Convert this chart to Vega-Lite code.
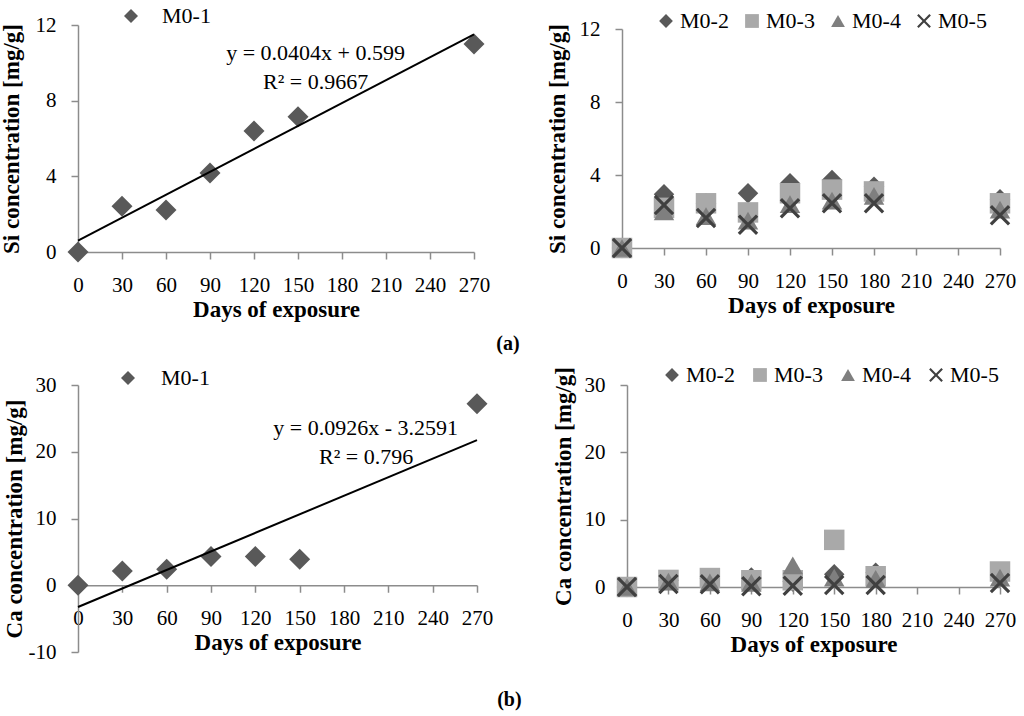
{
  "$schema": "https://vega.github.io/schema/vega-lite/v6.json",
  "padding": {"left": 0, "top": 5, "right": 10, "bottom": 5},
  "background": "white",
  "spacing": 10,
  "datasets": {
    "si1": [
      {"day": 0, "conc": 0, "series": "M0-1"},
      {"day": 30, "conc": 2.42, "series": "M0-1"},
      {"day": 60, "conc": 2.22, "series": "M0-1"},
      {"day": 90, "conc": 4.17, "series": "M0-1"},
      {"day": 120, "conc": 6.4, "series": "M0-1"},
      {"day": 150, "conc": 7.15, "series": "M0-1"},
      {"day": 270, "conc": 11.0, "series": "M0-1"}
    ],
    "si_trend": [{"day": 0, "conc": 0.599}, {"day": 270, "conc": 11.507}],
    "si_eq": [
      {"day": 162, "conc": 10.5, "label": "y = 0.0404x + 0.599"},
      {"day": 162, "conc": 9.0, "label": "R² = 0.9667"}
    ],
    "si_rest": [
      {"day": 0, "conc": 0, "series": "M0-2"},
      {"day": 30, "conc": 2.95, "series": "M0-2"},
      {"day": 60, "conc": 2.45, "series": "M0-2"},
      {"day": 90, "conc": 3.0, "series": "M0-2"},
      {"day": 120, "conc": 3.55, "series": "M0-2"},
      {"day": 150, "conc": 3.72, "series": "M0-2"},
      {"day": 180, "conc": 3.35, "series": "M0-2"},
      {"day": 270, "conc": 2.67, "series": "M0-2"},
      {"day": 0, "conc": 0, "series": "M0-3"},
      {"day": 30, "conc": 2.2, "series": "M0-3"},
      {"day": 60, "conc": 2.45, "series": "M0-3"},
      {"day": 90, "conc": 1.95, "series": "M0-3"},
      {"day": 120, "conc": 3.0, "series": "M0-3"},
      {"day": 150, "conc": 3.2, "series": "M0-3"},
      {"day": 180, "conc": 3.1, "series": "M0-3"},
      {"day": 270, "conc": 2.45, "series": "M0-3"},
      {"day": 0, "conc": 0, "series": "M0-4"},
      {"day": 30, "conc": 2.0, "series": "M0-4"},
      {"day": 60, "conc": 1.75, "series": "M0-4"},
      {"day": 90, "conc": 1.5, "series": "M0-4"},
      {"day": 120, "conc": 2.4, "series": "M0-4"},
      {"day": 150, "conc": 2.6, "series": "M0-4"},
      {"day": 180, "conc": 2.85, "series": "M0-4"},
      {"day": 270, "conc": 2.1, "series": "M0-4"},
      {"day": 0, "conc": 0, "series": "M0-5"},
      {"day": 30, "conc": 2.35, "series": "M0-5"},
      {"day": 60, "conc": 1.65, "series": "M0-5"},
      {"day": 90, "conc": 1.27, "series": "M0-5"},
      {"day": 120, "conc": 2.18, "series": "M0-5"},
      {"day": 150, "conc": 2.45, "series": "M0-5"},
      {"day": 180, "conc": 2.45, "series": "M0-5"},
      {"day": 270, "conc": 1.8, "series": "M0-5"}
    ],
    "ca1": [
      {"day": 0, "conc": 0, "series": "M0-1"},
      {"day": 30, "conc": 2.15, "series": "M0-1"},
      {"day": 60, "conc": 2.4, "series": "M0-1"},
      {"day": 90, "conc": 4.3, "series": "M0-1"},
      {"day": 120, "conc": 4.3, "series": "M0-1"},
      {"day": 150, "conc": 3.9, "series": "M0-1"},
      {"day": 270, "conc": 27.2, "series": "M0-1"}
    ],
    "ca_trend": [{"day": 0, "conc": -3.2591}, {"day": 270, "conc": 21.7429}],
    "ca_eq": [
      {"day": 194.7, "conc": 23.5, "label": "y = 0.0926x - 3.2591"},
      {"day": 195, "conc": 19.2, "label": "R² = 0.796"}
    ],
    "ca_rest": [
      {"day": 0, "conc": 0, "series": "M0-2"},
      {"day": 30, "conc": 1.0, "series": "M0-2"},
      {"day": 60, "conc": 1.3, "series": "M0-2"},
      {"day": 90, "conc": 1.4, "series": "M0-2"},
      {"day": 120, "conc": 0.8, "series": "M0-2"},
      {"day": 150, "conc": 1.9, "series": "M0-2"},
      {"day": 180, "conc": 2.1, "series": "M0-2"},
      {"day": 270, "conc": 1.5, "series": "M0-2"},
      {"day": 0, "conc": 0, "series": "M0-3"},
      {"day": 30, "conc": 1.05, "series": "M0-3"},
      {"day": 60, "conc": 1.33, "series": "M0-3"},
      {"day": 90, "conc": 1.0, "series": "M0-3"},
      {"day": 120, "conc": 1.0, "series": "M0-3"},
      {"day": 150, "conc": 7.0, "series": "M0-3"},
      {"day": 180, "conc": 1.6, "series": "M0-3"},
      {"day": 270, "conc": 2.3, "series": "M0-3"},
      {"day": 0, "conc": 0, "series": "M0-4"},
      {"day": 30, "conc": 0.8, "series": "M0-4"},
      {"day": 60, "conc": 0.7, "series": "M0-4"},
      {"day": 90, "conc": 0.6, "series": "M0-4"},
      {"day": 120, "conc": 3.2, "series": "M0-4"},
      {"day": 150, "conc": 1.4, "series": "M0-4"},
      {"day": 180, "conc": 1.2, "series": "M0-4"},
      {"day": 270, "conc": 1.4, "series": "M0-4"},
      {"day": 0, "conc": 0, "series": "M0-5"},
      {"day": 30, "conc": 0.45, "series": "M0-5"},
      {"day": 60, "conc": 0.4, "series": "M0-5"},
      {"day": 90, "conc": 0.1, "series": "M0-5"},
      {"day": 120, "conc": 0.2, "series": "M0-5"},
      {"day": 150, "conc": 0.3, "series": "M0-5"},
      {"day": 180, "conc": 0.3, "series": "M0-5"},
      {"day": 270, "conc": 0.6, "series": "M0-5"}
    ]
  },
  "vconcat": [
    {
      "bounds": "flush",
      "spacing": 148,
      "center": true,
      "title": {"text": "(a)", "orient": "bottom", "anchor": "middle", "dx": 0, "offset": 13, "fontSize": 20, "fontWeight": "bold", "font": "Liberation Serif", "color": "#000"},
      "resolve": {"scale": {"shape": "independent", "color": "independent"}, "legend": {"shape": "independent", "color": "independent"}},
      "hconcat": [
        {
          "width": 396,
          "height": 227,
          "layer": [
            {
              "data": {"name": "si1"},
              "mark": {"type": "point", "filled": true, "opacity": 1, "size": 441},
              "encoding": {
                "x": {"field": "day", "type": "quantitative", "scale": {"domain": [0, 270], "nice": false}, "axis": {"title": "Days of exposure", "values": [0, 30, 60, 90, 120, 150, 180, 210, 240, 270]}},
                "y": {"field": "conc", "type": "quantitative", "scale": {"domain": [0, 12], "nice": false}, "axis": {"title": "Si concentration [mg/g]", "values": [0, 4, 8, 12]}},
                "shape": {"field": "series", "type": "nominal", "scale": {"domain": ["M0-1"], "range": ["diamond"]}, "legend": {"title": null, "legendX": 42, "legendY": -20, "labelOffset": 20, "symbolSize": 196}},
                "color": {"field": "series", "type": "nominal", "scale": {"domain": ["M0-1"], "range": ["#595959"]}, "legend": {"title": null, "legendX": 42, "legendY": -20, "labelOffset": 20, "symbolSize": 196}}
              }
            },
            {
              "data": {"name": "si_trend"},
              "mark": {"type": "line", "color": "#000", "strokeWidth": 2},
              "encoding": {
                "x": {"field": "day", "type": "quantitative"},
                "y": {"field": "conc", "type": "quantitative"}
              }
            },
            {
              "data": {"name": "si_eq"},
              "mark": {"type": "text", "fontSize": 22, "font": "Liberation Serif", "color": "#000", "align": "center", "baseline": "middle"},
              "encoding": {
                "x": {"field": "day", "type": "quantitative"},
                "y": {"field": "conc", "type": "quantitative"},
                "text": {"field": "label"}
              }
            }
          ]
        },
        {
          "width": 378,
          "height": 219,
          "data": {"name": "si_rest"},
          "mark": {"type": "point", "filled": true, "opacity": 1, "size": 420},
          "encoding": {
            "x": {"field": "day", "type": "quantitative", "scale": {"domain": [0, 270], "nice": false}, "axis": {"title": "Days of exposure", "values": [0, 30, 60, 90, 120, 150, 180, 210, 240, 270]}},
            "y": {"field": "conc", "type": "quantitative", "scale": {"domain": [0, 12], "nice": false}, "axis": {"title": "Si concentration [mg/g]", "values": [0, 4, 8, 12], "titlePadding": 10}},
            "shape": {"field": "series", "type": "nominal", "scale": {"domain": ["M0-2", "M0-3", "M0-4", "M0-5"], "range": ["diamond", "square", "triangle-up", "M-1,-0.78L-0.78,-1L0,-0.22L0.78,-1L1,-0.78L0.22,0L1,0.78L0.78,1L0,0.22L-0.78,1L-1,0.78L-0.22,0Z"]}, "legend": {"title": null, "legendX": 33, "legendY": -19, "labelOffset": 3, "columnPadding": 12}},
            "color": {"field": "series", "type": "nominal", "scale": {"domain": ["M0-2", "M0-3", "M0-4", "M0-5"], "range": ["#595959", "#a9a9a9", "#7f7f7f", "#404040"]}, "legend": {"title": null, "legendX": 33, "legendY": -19, "labelOffset": 3, "columnPadding": 12}}
          }
        }
      ]
    },
    {
      "bounds": "flush",
      "spacing": 150,
      "title": {"text": "(b)", "orient": "bottom", "anchor": "middle", "dx": 0, "offset": 28, "fontSize": 20, "fontWeight": "bold", "font": "Liberation Serif", "color": "#000"},
      "resolve": {"scale": {"shape": "independent", "color": "independent"}, "legend": {"shape": "independent", "color": "independent"}},
      "hconcat": [
        {
          "width": 399,
          "height": 267,
          "layer": [
            {
              "data": {"name": "ca1"},
              "mark": {"type": "point", "filled": true, "opacity": 1, "size": 441},
              "encoding": {
                "x": {"field": "day", "type": "quantitative", "scale": {"domain": [0, 270], "nice": false}, "axis": {"title": "Days of exposure", "values": [0, 30, 60, 90, 120, 150, 180, 210, 240, 270], "offset": -66.75}},
                "y": {"field": "conc", "type": "quantitative", "scale": {"domain": [-10, 30], "nice": false}, "axis": {"title": "Ca concentration [mg/g]", "values": [-10, 0, 10, 20, 30], "titlePadding": 2, "labelExpr": "replace(datum.label, '\u2212', '-')"}},
                "shape": {"field": "series", "type": "nominal", "scale": {"domain": ["M0-1"], "range": ["diamond"]}, "legend": {"title": null, "legendX": 39, "legendY": -18, "labelOffset": 22, "symbolSize": 196}},
                "color": {"field": "series", "type": "nominal", "scale": {"domain": ["M0-1"], "range": ["#595959"]}, "legend": {"title": null, "legendX": 39, "legendY": -18, "labelOffset": 22, "symbolSize": 196}}
              }
            },
            {
              "data": {"name": "ca_trend"},
              "mark": {"type": "line", "color": "#000", "strokeWidth": 2},
              "encoding": {
                "x": {"field": "day", "type": "quantitative"},
                "y": {"field": "conc", "type": "quantitative"}
              }
            },
            {
              "data": {"name": "ca_eq"},
              "mark": {"type": "text", "fontSize": 22, "font": "Liberation Serif", "color": "#000", "align": "center", "baseline": "middle"},
              "encoding": {
                "x": {"field": "day", "type": "quantitative"},
                "y": {"field": "conc", "type": "quantitative"},
                "text": {"field": "label"}
              }
            }
          ]
        },
        {
          "width": 373,
          "height": 202,
          "data": {"name": "ca_rest"},
          "mark": {"type": "point", "filled": true, "opacity": 1, "size": 420},
          "encoding": {
            "x": {"field": "day", "type": "quantitative", "scale": {"domain": [0, 270], "nice": false}, "axis": {"title": "Days of exposure", "values": [0, 30, 60, 90, 120, 150, 180, 210, 240, 270]}},
            "y": {"field": "conc", "type": "quantitative", "scale": {"domain": [0, 30], "nice": false}, "axis": {"title": "Ca concentration [mg/g]", "values": [0, 10, 20, 30], "titlePadding": 9}},
            "shape": {"field": "series", "type": "nominal", "scale": {"domain": ["M0-2", "M0-3", "M0-4", "M0-5"], "range": ["diamond", "square", "triangle-up", "M-1,-0.78L-0.78,-1L0,-0.22L0.78,-1L1,-0.78L0.22,0L1,0.78L0.78,1L0,0.22L-0.78,1L-1,0.78L-0.22,0Z"]}, "legend": {"title": null, "legendX": 34, "legendY": -21, "labelOffset": 3, "columnPadding": 14}},
            "color": {"field": "series", "type": "nominal", "scale": {"domain": ["M0-2", "M0-3", "M0-4", "M0-5"], "range": ["#595959", "#a9a9a9", "#7f7f7f", "#404040"]}, "legend": {"title": null, "legendX": 34, "legendY": -21, "labelOffset": 3, "columnPadding": 14}}
          }
        }
      ]
    }
  ],
  "config": {
    "font": "Liberation Serif",
    "view": {"stroke": null},
    "axis": {
      "grid": false,
      "domainColor": "#8c8c8c",
      "tickColor": "#8c8c8c",
      "domainWidth": 1.5,
      "tickWidth": 1.5,
      "tickSize": 7,
      "labelFont": "Liberation Serif",
      "labelFontSize": 21,
      "labelColor": "#000",
      "titleFont": "Liberation Serif",
      "titleFontSize": 23,
      "titleFontWeight": "bold",
      "titleColor": "#000",
      "labelPadding": 15
    },
    "axisX": {"titlePadding": 3, "labelFlush": false, "labelOverlap": false},
    "axisY": {"titlePadding": 12, "labelOverlap": false},
    "legend": {
      "orient": "none",
      "direction": "horizontal",
      "labelFont": "Liberation Serif",
      "labelFontSize": 22,
      "labelColor": "#000",
      "padding": 0,
      "symbolSize": 190,
      "symbolOpacity": 1,
      "symbolStrokeWidth": 0
    }
  }
}
